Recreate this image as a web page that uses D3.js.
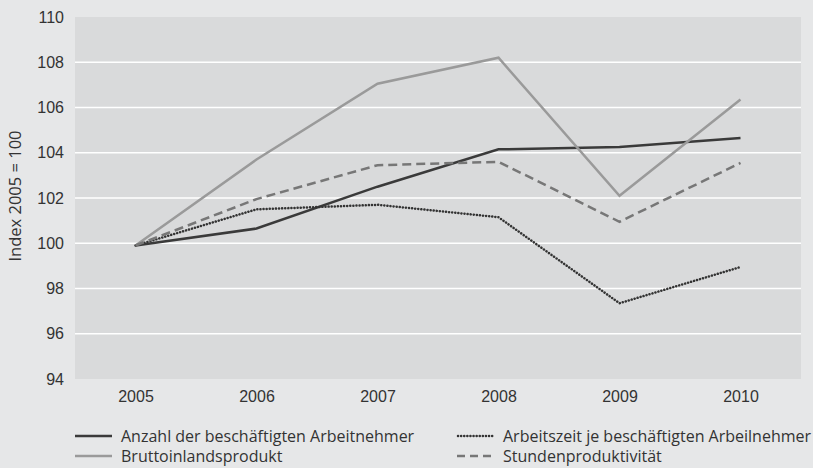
<!DOCTYPE html>
<html>
<head>
<meta charset="utf-8">
<script src="https://cdn.jsdelivr.net/npm/d3@7"></script>
<style>
  body { margin: 0; background: #e6e7e8; }
  svg text { fill: #333; }
</style>
</head>
<body>
<div id="chart"></div>
<script>
const years = ["2005", "2006", "2007", "2008", "2009", "2010"];
const anzahl = [99.9, 100.65, 102.5, 104.15, 104.25, 104.65];
const bip = [99.9, 103.7, 107.05, 108.2, 102.1, 106.35];
const arbeitszeit = [99.9, 101.5, 101.7, 101.15, 97.35, 98.95];
const stunden = [99.9, 101.95, 103.45, 103.6, 100.95, 103.55];
const yTicks = [94, 96, 98, 100, 102, 104, 106, 108, 110];

const series = [
  { name: "Anzahl der beschäftigten Arbeitnehmer", values: anzahl, color: "#3a3a3a", dash: null, cap: "butt" },
  { name: "Bruttoinlandsprodukt", values: bip, color: "#9a9a9a", dash: null, cap: "butt" },
  { name: "Arbeitszeit je beschäftigten Arbeilnehmer", values: arbeitszeit, color: "#333", dash: "0.1 3", cap: "round" },
  { name: "Stundenproduktivität", values: stunden, color: "#777", dash: "9 5", cap: "butt" }
];

const WIDTH = 813, HEIGHT = 468;
const plot = { left: 75, right: 801, top: 17, bottom: 379 };

const svg = d3.select("#chart").append("svg")
  .attr("width", WIDTH).attr("height", HEIGHT)
  .style("font-family", "'Open Sans', sans-serif");

const x = d3.scalePoint().domain(years).range([plot.left, plot.right]).padding(0.5);
const y = d3.scaleLinear().domain([94, 110]).range([plot.bottom, plot.top]);

svg.append("rect")
  .attr("x", plot.left).attr("y", plot.top)
  .attr("width", plot.right - plot.left).attr("height", plot.bottom - plot.top)
  .attr("fill", "#d9dadb");

// grid
svg.append("g").selectAll("line").data(yTicks.filter(t => t > 94 && t < 110)).join("line")
  .attr("x1", plot.left).attr("x2", plot.right)
  .attr("y1", d => y(d)).attr("y2", d => y(d))
  .attr("stroke", "#fff").attr("stroke-width", 1.3);

// y axis
const yAxis = svg.append("g")
  .attr("transform", `translate(${plot.left},0)`)
  .call(d3.axisLeft(y).tickValues(yTicks).tickSize(0).tickPadding(11));
yAxis.select(".domain").remove();
yAxis.selectAll("text").attr("font-size", 16).attr("fill", "#333");

// x axis
const xAxis = svg.append("g")
  .attr("transform", `translate(0,${plot.bottom})`)
  .call(d3.axisBottom(x).tickSize(0).tickPadding(12));
xAxis.select(".domain").remove();
xAxis.selectAll("text").attr("font-size", 16).attr("fill", "#333");

svg.append("text")
  .attr("transform", `translate(21,${(plot.top + plot.bottom) / 2 - 2}) rotate(-90)`)
  .attr("text-anchor", "middle")
  .attr("font-size", 16.5)
  .text("Index 2005 = 100");

const line = d3.line().x((d, i) => x(years[i])).y(d => y(d));

svg.append("g").selectAll("path").data(series).join("path")
  .attr("d", s => line(s.values))
  .attr("fill", "none")
  .attr("stroke", s => s.color)
  .attr("stroke-width", 2.5)
  .attr("stroke-dasharray", s => s.dash)
  .attr("stroke-linecap", s => s.cap);

// legend
const legendPos = [
  { x: 75, y: 436 }, { x: 75, y: 456 }, { x: 457, y: 436 }, { x: 457, y: 456 }
];
const legend = svg.append("g").selectAll("g").data(series).join("g")
  .attr("transform", (s, i) => `translate(${legendPos[i].x},${legendPos[i].y})`);
legend.append("line")
  .attr("x1", (s, i) => i === 2 ? 1 : 0).attr("x2", 37)
  .attr("stroke", s => s.color)
  .attr("stroke-width", 2.5)
  .attr("stroke-dasharray", (s, i) => i === 3 ? "8 5" : s.dash)
  .attr("stroke-linecap", s => s.cap);
legend.append("text")
  .attr("x", 46)
  .attr("dy", "0.35em")
  .attr("font-size", 16)
  .text(s => s.name);
</script>
</body>
</html>
